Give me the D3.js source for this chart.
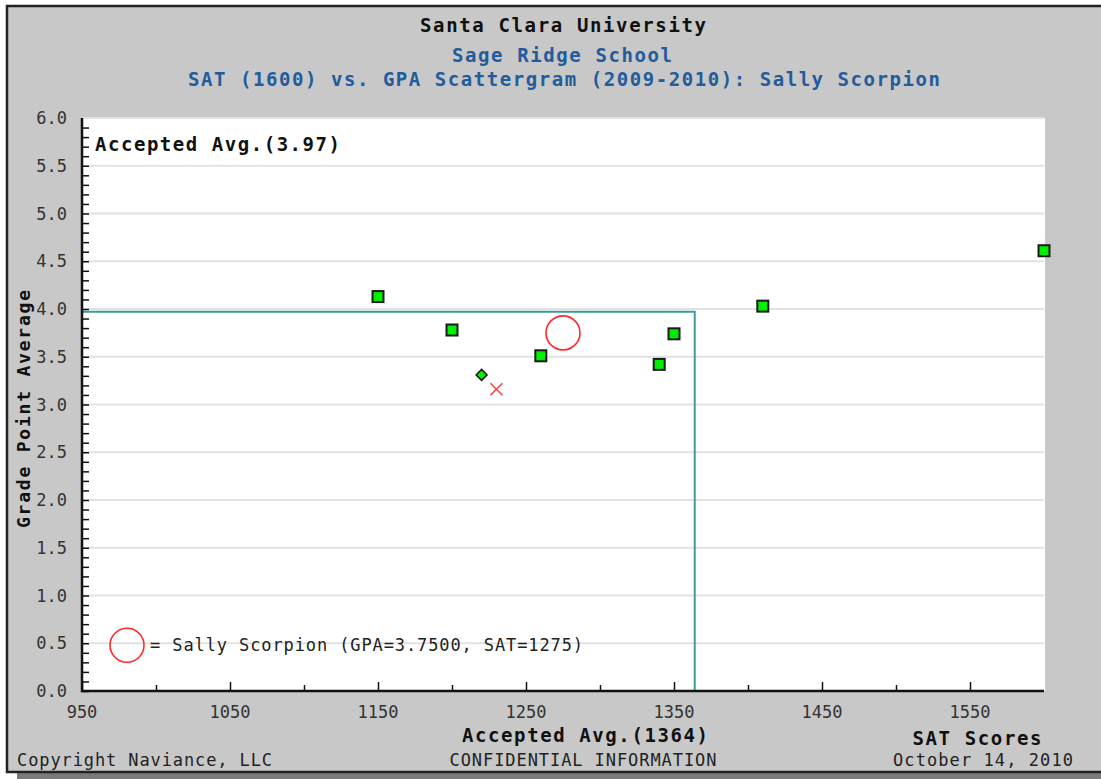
<!DOCTYPE html>
<html><head><meta charset="utf-8">
<script src="https://cdn.jsdelivr.net/npm/d3@7"></script>
<style>body{margin:0;background:#fff;}svg{display:block;}</style>
</head><body>
<svg id="c" width="1101" height="779"></svg>
<script>
// ---- data ----
const acceptedSAT = [1150, 1200, 1260, 1340, 1350, 1410, 1600];
const acceptedGPA = [4.13, 3.78, 3.51, 3.42, 3.74, 4.03, 4.61];
const waitlistSAT = [1220];
const waitlistGPA = [3.31];
const deniedSAT = [1230];
const deniedGPA = [3.16];
const studentSAT = 1275, studentGPA = 3.75;
const acceptedAvgSAT = 1364, acceptedAvgGPA = 3.97;
const xTickLabels = [950, 1050, 1150, 1250, 1350, 1450, 1550];
const xMinorTicks = [1000, 1100, 1200, 1300, 1400, 1500];
const yTickLabels = [0, 0.5, 1, 1.5, 2, 2.5, 3, 3.5, 4, 4.5, 5, 5.5, 6];

const svg = d3.select("#c");
const MONO = "'DejaVu Sans Mono', 'Liberation Mono', monospace";
const x = d3.scaleLinear().domain([950, 1600]).range([82, 1044]);
const y = d3.scaleLinear().domain([0, 6]).range([691, 118]);

// outer panel with shadow
svg.append("rect").attr("x", 17).attr("y", 772).attr("width", 1090).attr("height", 12).attr("fill", "#7a7a7a");
svg.append("rect").attr("x", 7).attr("y", 6).attr("width", 1100).attr("height", 766)
  .attr("fill", "#c8c8c8").attr("stroke", "#222").attr("stroke-width", 2.5);

// plot area
svg.append("rect").attr("x", x(950)).attr("y", y(6)).attr("width", x(1600) - x(950) + 1).attr("height", y(0) - y(6))
  .attr("fill", "#fff");

// gridlines
svg.append("g").selectAll("line").data(yTickLabels.filter(d => d > 0)).join("line")
  .attr("x1", x(950)).attr("x2", x(1600)).attr("y1", d => y(d)).attr("y2", d => y(d))
  .attr("stroke", "#e2e2e2").attr("stroke-width", 2);

// accepted average reference lines
svg.append("path")
  .attr("d", `M${x(950)},${y(acceptedAvgGPA)}H${x(acceptedAvgSAT)}V${y(0)}`)
  .attr("fill", "none").attr("stroke", "#3a9c9c").attr("stroke-width", 2);

// axes
const yMinor = d3.range(0, 60).map(i => i / 10);
const gy = svg.append("g").attr("transform", `translate(${x(950)},0)`)
  .call(d3.axisRight(y).tickValues(yMinor).tickSize(7).tickFormat(""));
gy.select(".domain").remove();
gy.selectAll("line").attr("stroke", "#111").attr("stroke-width", 1.5);

const gxMajor = svg.append("g").attr("transform", `translate(0,${y(0)})`)
  .call(d3.axisTop(x).tickValues(xTickLabels).tickSize(9).tickFormat(""));
gxMajor.select(".domain").remove();
gxMajor.selectAll("line").attr("stroke", "#111").attr("stroke-width", 1.5);
const gxMinor = svg.append("g").attr("transform", `translate(0,${y(0)})`)
  .call(d3.axisTop(x).tickValues(xMinorTicks).tickSize(6).tickFormat(""));
gxMinor.select(".domain").remove();
gxMinor.selectAll("line").attr("stroke", "#111").attr("stroke-width", 1.5);

svg.append("path").attr("d", `M${x(950)},${y(6)}V${y(0)}H${x(1600)}`)
  .attr("fill", "none").attr("stroke", "#111").attr("stroke-width", 2.5);

// tick labels
svg.append("g").selectAll("text").data(yTickLabels).join("text")
  .attr("x", 67).attr("y", d => y(d) + 6).attr("text-anchor", "end")
  .attr("font-family", MONO).attr("font-size", 17).attr("fill", "#333")
  .text(d => d.toFixed(1));
svg.append("g").selectAll("text").data(xTickLabels).join("text")
  .attr("x", d => x(d)).attr("y", 718).attr("text-anchor", "middle")
  .attr("font-family", MONO).attr("font-size", 17).attr("fill", "#333")
  .text(d => d);

// helper text
function txt(s, px, py, opts) {
  const t = svg.append("text").attr("x", px).attr("y", py)
    .attr("font-family", MONO).attr("font-size", opts.size || 18)
    .attr("font-weight", opts.bold ? "bold" : "normal")
    .attr("fill", opts.fill || "#111")
    .attr("text-anchor", opts.anchor || "start").text(s);
  if (opts.len) t.attr("textLength", opts.len).attr("lengthAdjust", "spacing");
  if (opts.rot) t.attr("transform", `rotate(-90,${px},${py})`);
  return t;
}
txt("Santa Clara University", 563, 32, {bold: true, size: 19, anchor: "middle", len: 286, fill: "#111"});
txt("Sage Ridge School", 562, 62, {bold: true, size: 19, anchor: "middle", len: 220, fill: "#235c9c"});
txt("SAT (1600) vs. GPA Scattergram (2009-2010): Sally Scorpion", 564, 86, {bold: true, size: 19, anchor: "middle", len: 752, fill: "#235c9c"});
txt(`Accepted Avg.(${acceptedAvgGPA.toFixed(2)})`, 95, 151, {bold: true, size: 19, len: 245});
txt(`Accepted Avg.(${acceptedAvgSAT})`, 585, 742, {bold: true, size: 19, anchor: "middle", len: 246});
txt("SAT Scores", 977, 745, {bold: true, size: 19, anchor: "middle", len: 129});
txt("Grade Point Average", 30, 409, {bold: true, size: 18, anchor: "middle", len: 238, rot: true});
txt("Copyright Naviance, LLC", 17, 766, {size: 17, len: 255, fill: "#222"});
txt("CONFIDENTIAL INFORMATION", 583, 766, {size: 17, anchor: "middle", len: 267, fill: "#222"});
txt("October 14, 2010", 983, 766, {size: 17, anchor: "middle", len: 180, fill: "#222"});

// legend
svg.append("circle").attr("cx", 127).attr("cy", y(0.5) + 2).attr("r", 17)
  .attr("fill", "none").attr("stroke", "#ff2a2a").attr("stroke-width", 1.6);
txt(`= Sally Scorpion (GPA=${studentGPA.toFixed(4)}, SAT=${studentSAT})`, 150, y(0.5) + 8, {size: 17, len: 433, fill: "#222"});

// accepted squares
svg.append("g").selectAll("rect").data(acceptedSAT.map((s, i) => [s, acceptedGPA[i]])).join("rect")
  .attr("x", d => x(d[0]) - 5.5).attr("y", d => y(d[1]) - 5.5).attr("width", 11).attr("height", 11)
  .attr("fill", "#00ee00").attr("stroke", "#1a1a1a").attr("stroke-width", 2);

// waitlist diamond
svg.append("g").selectAll("path").data(waitlistSAT.map((s, i) => [s, waitlistGPA[i]])).join("path")
  .attr("d", d => `M${x(d[0])},${y(d[1]) - 5.5}l5.5,5.5l-5.5,5.5l-5.5,-5.5z`)
  .attr("fill", "#00ee00").attr("stroke", "#1a1a1a").attr("stroke-width", 1.5);

// denied x
svg.append("g").selectAll("path").data(deniedSAT.map((s, i) => [s, deniedGPA[i]])).join("path")
  .attr("d", d => `M${x(d[0]) - 6},${y(d[1]) - 6}l12,12M${x(d[0]) + 6},${y(d[1]) - 6}l-12,12`)
  .attr("fill", "none").attr("stroke", "#ff4040").attr("stroke-width", 1.5);

// student circle
svg.append("circle").attr("cx", x(studentSAT)).attr("cy", y(studentGPA)).attr("r", 17)
  .attr("fill", "none").attr("stroke", "#ff2a2a").attr("stroke-width", 1.6);
</script>
</body></html>
